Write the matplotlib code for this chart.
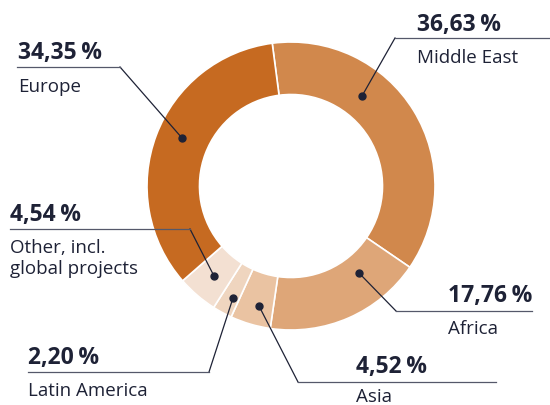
import matplotlib.pyplot as plt

# region shares (%), clockwise from the top
regions = ["Middle East", "Africa", "Asia", "Latin America",
           "Other, incl.\nglobal projects", "Europe"]
shares = [36.63, 17.76, 4.52, 2.20, 4.54, 34.35]
pct_labels = ["36,63\u2009%", "17,76\u2009%", "4,52\u2009%", "2,20\u2009%",
              "4,54\u2009%", "34,35\u2009%"]
colors = ["#D1884C", "#DEA678", "#EAC3A2", "#EFD5BF", "#F3E0D2", "#C66A21"]

W, H = 550, 405
ink = "#1e2236"
fam = ["Open Sans", "DejaVu Sans"]


def Y(y):
    # pixel row -> data y
    return H - y


fig = plt.figure(figsize=(5.5, 4.05), dpi=100)
ax = fig.add_axes([0, 0, 1, 1])

cx, cy, r_out, r_in = 291, 186, 144, 91.5
ax.pie(shares, colors=colors, startangle=97.5, counterclock=False,
       center=(cx, Y(cy)), radius=r_out,
       wedgeprops=dict(width=r_out - r_in, edgecolor="white", linewidth=1.2))

# label layout: dot, elbow, line end, text x, pct baseline, label baseline
layout = [
    ((362, 96), (395, 38), 550, 417, 31, 63),
    ((359, 273), (396, 311), 532, 448, 302, 334),
    ((259, 306), (298, 382), 496, 356, 373, 402),
    ((233, 298), (209, 372), 28, 28, 364, 396),
    ((214, 276), (190, 229), 10, 10, 221, 253),
    ((182, 138), (120, 67), 17, 18, 59, 92),
]

for (dot, elbow, xend, tx, yp, yl), name, pct in zip(layout, regions, pct_labels):
    ax.plot([dot[0], elbow[0]], [Y(dot[1]), Y(elbow[1])], color=ink, lw=0.9)
    ax.plot([elbow[0], xend], [Y(elbow[1]), Y(elbow[1])], color="#55586a", lw=0.9)
    ax.plot(dot[0], Y(dot[1]), "o", color=ink, markersize=5)
    ax.text(tx, Y(yp), pct, fontsize=16.5, fontweight="bold", color=ink,
            family=fam, va="baseline", ha="left")
    for i, line in enumerate(name.split("\n")):
        ax.text(tx, Y(yl + 21 * i), line, fontsize=13.5, color=ink, family=fam,
                va="baseline", ha="left")

ax.set_xlim(0, W)
ax.set_ylim(0, H)
ax.set_aspect("equal")
ax.axis("off")

fig.savefig("out.png", dpi=100)
